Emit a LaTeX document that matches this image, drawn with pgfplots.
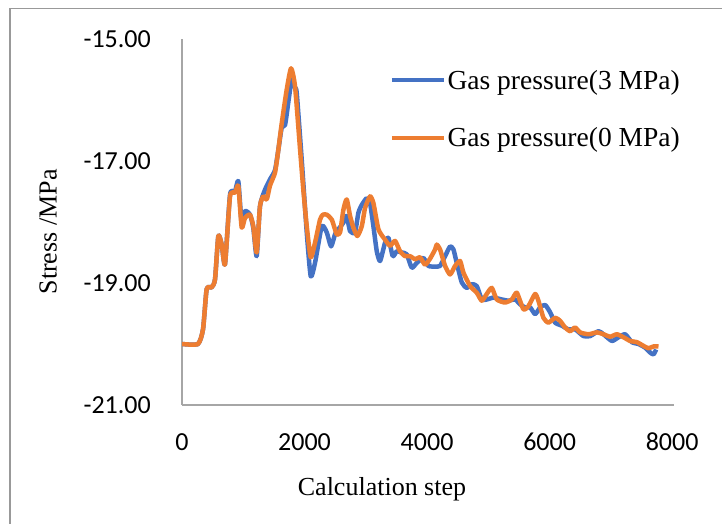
\documentclass[border=0pt]{standalone}
\usepackage{fontspec}
\setmainfont{Liberation Serif}
\newfontfamily\calibri{Carlito}
\usepackage{pgfplots}
\pgfplotsset{compat=1.18}
\definecolor{xlblue}{HTML}{4472C4}
\definecolor{xlorange}{HTML}{ED7D31}
\definecolor{axgray}{HTML}{A6A6A6}
\begin{document}
\begin{tikzpicture}
\useasboundingbox (0pt,0pt) rectangle (722pt,524pt);
\draw[color=gray!80, line width=1.2pt] (10pt,-20pt) -- (10pt,515.7pt) -- (760pt,515.7pt);
\begin{axis}[
  at={(182pt,119pt)}, anchor=south west,
  scale only axis, width=492pt, height=366pt,
  xmin=0, xmax=8030, ymin=-21, ymax=-15,
  axis x line=bottom, axis y line=left,
  axis line style={-, draw=axgray, line width=1.3pt},
  xtick={0,2000,4000,6000,8000},
  ytick={-21,-19,-17,-15},
  major tick length=0pt,
  /pgf/number format/assume math mode=true,
  tick label style={font=\calibri\fontsize{26}{31}\selectfont, text=black},
  yticklabel={\pgfmathprintnumber[fixed, fixed zerofill, precision=2]{\tick}},
  xticklabel={\pgfmathprintnumber[fixed, set thousands separator={}]{\tick}},
  yticklabel style={anchor=east, inner sep=0pt, xshift=-31pt},
  xticklabel style={anchor=north, inner sep=0pt, yshift=-28pt},
  xlabel={Calculation step},
  ylabel={Stress /MPa},
  label style={font=\fontsize{26}{31}\selectfont},
  xlabel style={at={(axis description cs:0.4065,-0.2295)}, anchor=center},
  ylabel style={at={(axis description cs:-0.272,0.473)}, anchor=center, rotate=0},
  legend style={draw=none, fill=none, at={(axis description cs:0.4215,0.916)}, anchor=north west,
    font=\fontsize{27.5}{32}\selectfont, row sep=37pt, inner sep=0pt, nodes={inner xsep=1.5pt, inner ysep=0pt}},
  legend cell align=left,
  legend image code/.code={\draw[#1] (0pt,0pt) -- (52pt,0pt);},
]
\addplot[xlblue, line width=4.5pt, smooth, tension=0.35, line join=round] coordinates {
(0,-20.0) (260,-20.0) (343,-19.76) (403,-19.10) (485,-19.07) (539,-18.94) (593,-18.23) (648,-18.37) (702,-18.69)
(784,-17.55) (865,-17.50) (919,-17.33) (974,-18.02) (1029,-17.82) (1110,-17.88) (1164,-18.10) (1219,-18.56)
(1273,-17.74) (1355,-17.47) (1437,-17.30) (1518,-17.15) (1572,-16.82) (1628,-16.45) (1682,-16.41) (1740,-16.00)
(1791,-15.67) (1845,-15.80) (1873,-15.89) (1954,-16.98) (2036,-18.17) (2101,-18.89) (2171,-18.67) (2281,-18.07)
(2362,-18.17) (2433,-18.40) (2498,-18.20) (2552,-18.12) (2634,-18.01) (2688,-17.90) (2743,-18.15) (2824,-18.17)
(2879,-17.85) (2934,-17.72) (3015,-17.61) (3069,-17.69) (3124,-18.07) (3179,-18.48) (3233,-18.64) (3314,-18.34)
(3369,-18.26) (3440,-18.56) (3505,-18.48) (3587,-18.50) (3668,-18.53) (3750,-18.75) (3832,-18.67) (3940,-18.59)
(4022,-18.72) (4131,-18.73) (4212,-18.72) (4294,-18.56) (4376,-18.40) (4430,-18.45) (4484,-18.67) (4566,-18.99)
(4648,-19.08) (4730,-19.02) (4811,-19.05) (4893,-19.27) (4974,-19.27) (5082,-19.24) (5219,-19.27) (5328,-19.29)
(5437,-19.27) (5518,-19.35) (5600,-19.40) (5682,-19.40) (5763,-19.51) (5845,-19.40) (5927,-19.36) (6008,-19.48)
(6090,-19.65) (6199,-19.70) (6307,-19.76) (6416,-19.76) (6552,-19.87) (6661,-19.87) (6797,-19.79) (6878,-19.84)
(7016,-19.95) (7123,-19.89) (7233,-19.84) (7342,-19.97) (7450,-20.00) (7559,-20.06) (7641,-20.14) (7695,-20.17)
(7739,-20.09)
};
\addlegendentry{Gas pressure(3 MPa)}
\addplot[xlorange, line width=4.5pt, smooth, tension=0.35, line join=round] coordinates {
(0,-20.0) (260,-20.0) (343,-19.76) (403,-19.10) (485,-19.07) (539,-18.94) (593,-18.23) (648,-18.37) (702,-18.69)
(784,-17.58) (865,-17.52) (919,-17.41) (974,-18.09) (1029,-17.93) (1110,-17.88) (1164,-18.07) (1219,-18.50)
(1273,-17.74) (1328,-17.58) (1383,-17.63) (1437,-17.40) (1518,-17.19) (1572,-16.82) (1628,-16.38) (1709,-15.83)
(1780,-15.48) (1845,-15.78) (1927,-16.81) (1980,-17.47) (2036,-18.07) (2101,-18.58) (2171,-18.34) (2253,-17.96)
(2300,-17.88) (2362,-17.88) (2444,-17.96) (2525,-18.20) (2580,-18.17) (2634,-17.80) (2688,-17.63) (2743,-17.90)
(2797,-18.09) (2862,-18.23) (2934,-18.07) (2988,-17.77) (3069,-17.58) (3124,-17.69) (3206,-18.12) (3314,-18.29)
(3396,-18.39) (3478,-18.31) (3559,-18.48) (3641,-18.56) (3722,-18.56) (3804,-18.61) (3886,-18.58) (3967,-18.70)
(4049,-18.60) (4131,-18.45) (4158,-18.37) (4212,-18.45) (4294,-18.72) (4376,-18.86) (4457,-18.72) (4539,-18.64)
(4593,-18.83) (4702,-19.05) (4811,-19.16) (4893,-19.29) (4974,-19.18) (5056,-19.08) (5138,-19.27) (5273,-19.32)
(5383,-19.27) (5464,-19.16) (5572,-19.43) (5654,-19.38) (5763,-19.18) (5817,-19.29) (5899,-19.57) (5981,-19.65)
(6090,-19.57) (6171,-19.62) (6253,-19.73) (6335,-19.79) (6416,-19.73) (6498,-19.81) (6634,-19.84) (6771,-19.81)
(6878,-19.84) (6988,-19.88) (7097,-19.84) (7206,-19.89) (7314,-19.95) (7424,-19.97) (7531,-20.03) (7613,-20.07)
(7695,-20.04) (7777,-20.04)
};
\addlegendentry{Gas pressure(0 MPa)}
\end{axis}
\end{tikzpicture}
\end{document}
